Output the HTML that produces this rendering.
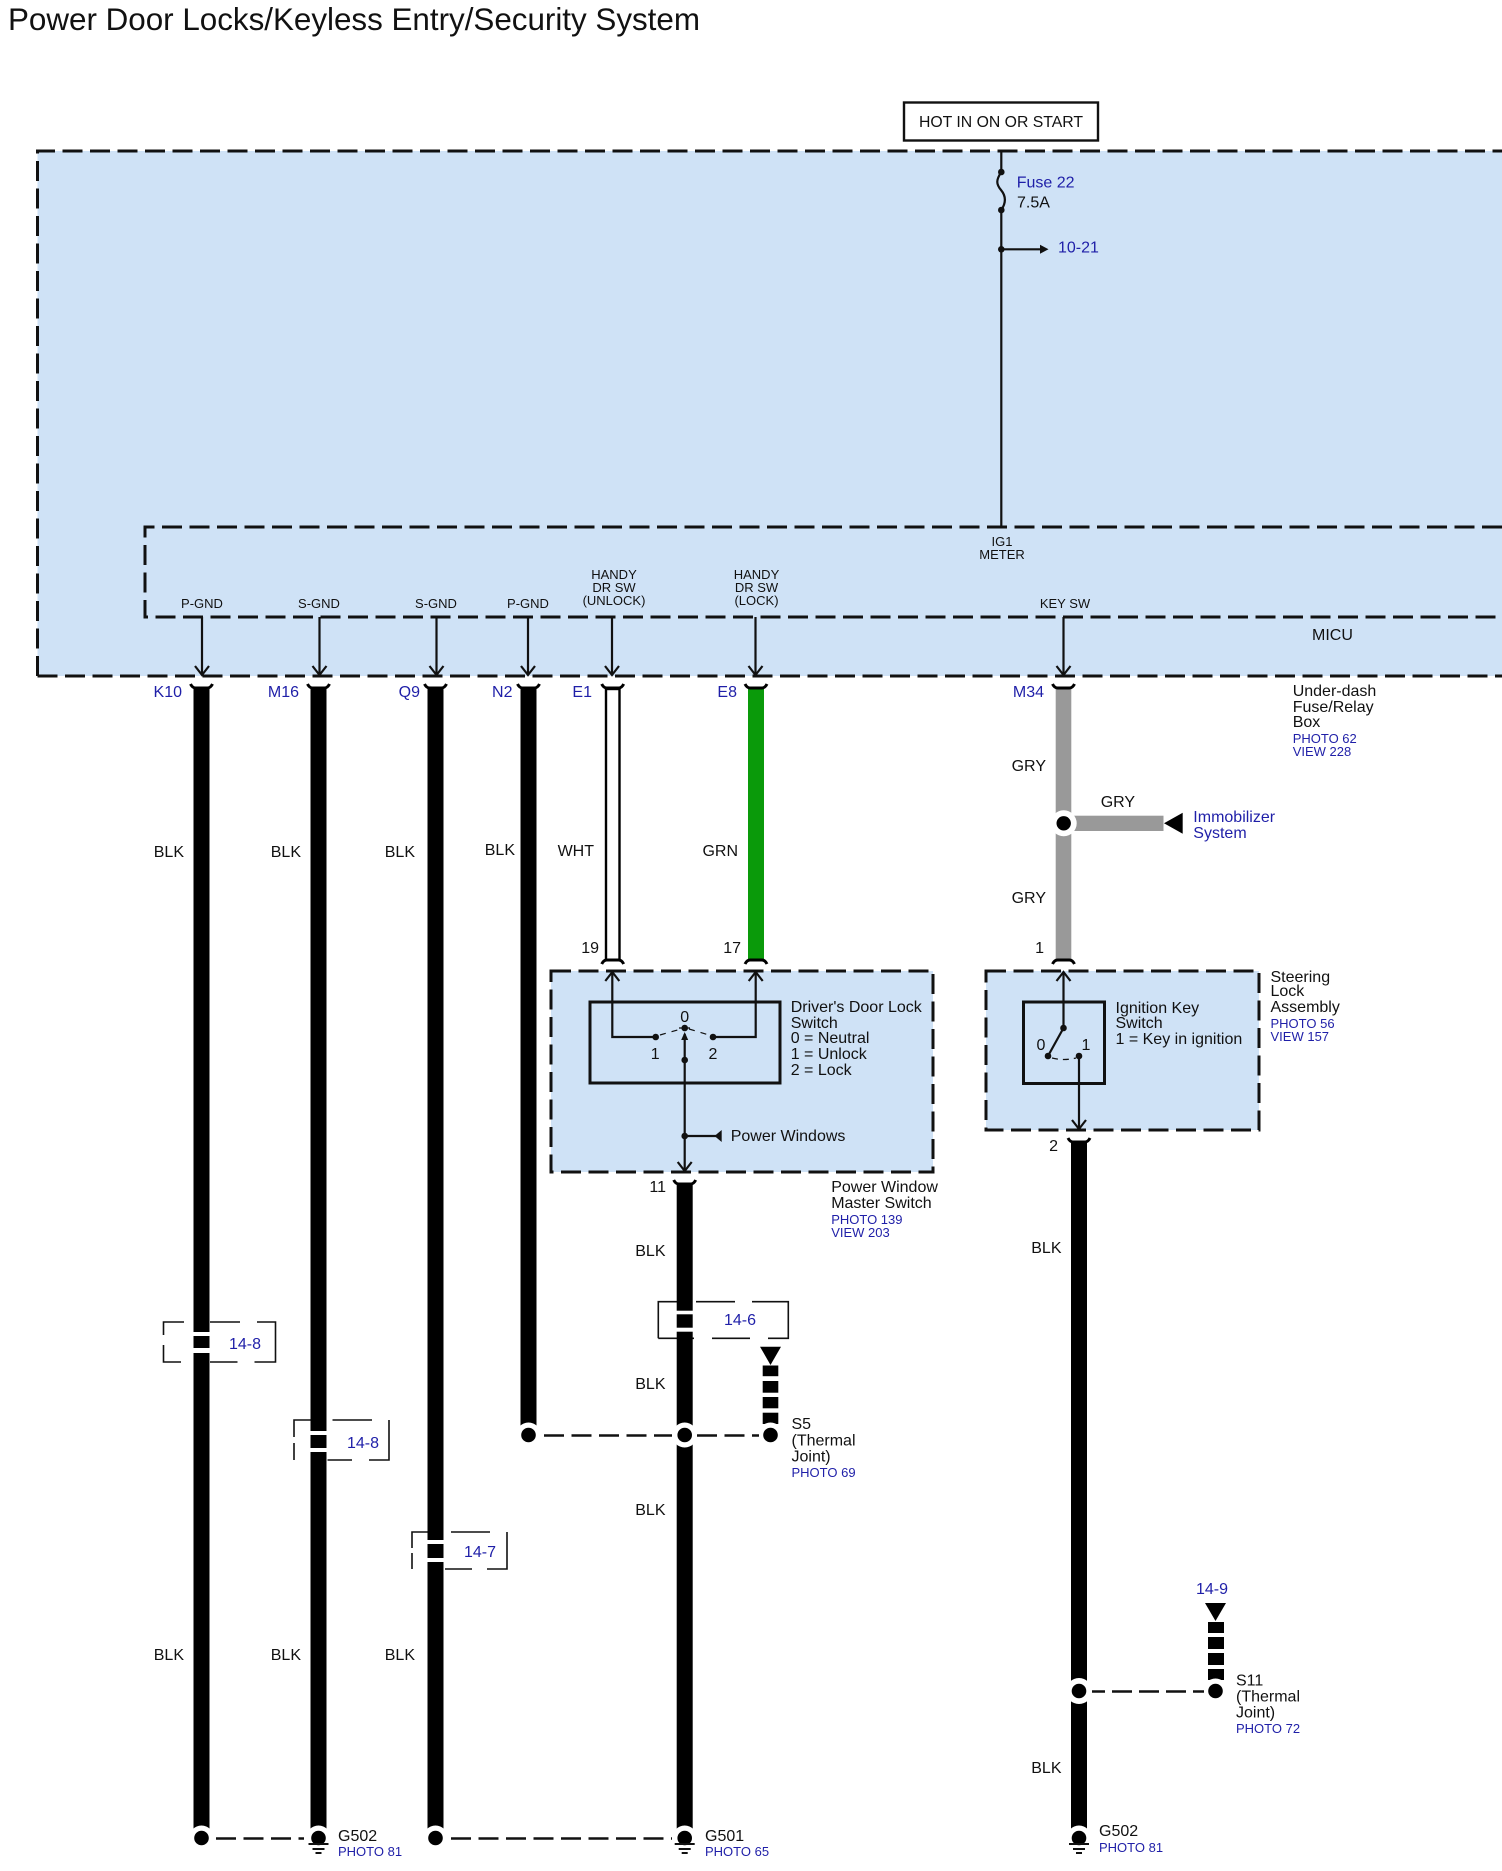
<!DOCTYPE html>
<html><head><meta charset="utf-8"><title>Power Door Locks/Keyless Entry/Security System</title>
<style>
html,body{margin:0;padding:0;background:#fff}
svg{display:block}
text{font-family:"Liberation Sans",Arial,sans-serif;font-size:16px;fill:#111}
.b{fill:#1f1fa8}
.s{font-size:13px}
.e{text-anchor:end}
.m{text-anchor:middle}
.d{fill:none;stroke:#111;stroke-width:3;stroke-dasharray:20 7.5}
.t{fill:none;stroke:#111;stroke-width:1.6}
.l{fill:none;stroke:#111;stroke-width:2.2}
</style></head><body>
<svg width="1502" height="1871" viewBox="0 0 1502 1871" xmlns="http://www.w3.org/2000/svg">
<defs>
<path id="ah" d="M-7,-9 L0,0 L7,-9" fill="none" stroke="#111" stroke-width="2.200"/>
<path id="au" d="M-7,9 L0,0 L7,9" fill="none" stroke="#111" stroke-width="2.200"/>
<path id="ct" d="M-11,-4 Q-9,0 -6,0 L6,0 Q9,0 11,-4" fill="none" stroke="#000" stroke-width="3"/>
<path id="cb" d="M-11,4 Q-9,0 -6,0 L6,0 Q9,0 11,4" fill="none" stroke="#000" stroke-width="3"/>
<g id="gnd"><rect x="-10" y="5" width="20" height="2" fill="#111"/><rect x="-6" y="10" width="12" height="2" fill="#111"/><rect x="-3" y="14" width="6" height="2" fill="#111"/></g>
</defs>
<rect width="1502" height="1871" fill="#fff"/>
<text x="8" y="30" style="font-size:31.400px" textLength="692">Power Door Locks/Keyless Entry/Security System</text>

<!-- main boxes -->
<rect x="37.500" y="151" width="1470" height="525" fill="#cfe2f6"/>
<path class="d" d="M37.500,676 L37.500,151 L1502,151"/>
<path class="d" d="M37.500,676 L1502,676"/>
<path class="d" d="M1502,527 L145,527 L145,617 L1502,617"/>
<rect x="904" y="102.500" width="194" height="38" fill="#fff" stroke="#111" stroke-width="2.400"/>
<text class="m" x="1001" y="127" style="font-size:15.800px">HOT IN ON OR START</text>

<!-- fuse line -->
<path class="l" d="M1001.300,151 V172 C996,180 996,184 1001,190 C1006,196 1006,203 1001.300,210 V527"/>
<circle cx="1001.300" cy="172" r="3.300" fill="#111"/><circle cx="1001.300" cy="210" r="3.300" fill="#111"/>
<circle cx="1001.300" cy="249.300" r="3.300" fill="#111"/>
<path class="l" d="M1001.300,249.300 H1042"/><path d="M1040,244.800 L1048.500,249.300 L1040,253.800 Z" fill="#111"/>
<text class="b" x="1016.700" y="187.500">Fuse 22</text>
<text x="1017" y="207.500">7.5A</text>
<text class="b" x="1058" y="252.500">10-21</text>

<!-- pin labels -->
<g>
<text class="s m" x="202" y="608">P-GND</text>
<text class="s m" x="319" y="608">S-GND</text>
<text class="s m" x="436" y="608">S-GND</text>
<text class="s m" x="528" y="608">P-GND</text>
<text class="s m" x="614" y="579">HANDY</text>
<text class="s m" x="614" y="592">DR SW</text>
<text class="s m" x="614" y="605">(UNLOCK)</text>
<text class="s m" x="756.500" y="579">HANDY</text>
<text class="s m" x="756.500" y="592">DR SW</text>
<text class="s m" x="756.500" y="605">(LOCK)</text>
<text class="s m" x="1002" y="546">IG1</text>
<text class="s m" x="1002" y="559">METER</text>
<text class="s m" x="1065" y="608">KEY SW</text>
</g>
<text x="1312" y="640">MICU</text>

<!-- pin arrows -->
<path class="l" d="M202,617 V675 M319.500,617 V675 M436.500,617 V675 M528,617 V675 M612,617 V675 M755.500,617 V675 M1063.500,617 V675"/>
<use href="#ah" x="202" y="675"/><use href="#ah" x="319.500" y="675"/><use href="#ah" x="436.500" y="675"/><use href="#ah" x="528" y="675"/><use href="#ah" x="612" y="675"/><use href="#ah" x="755.500" y="675"/><use href="#ah" x="1063.500" y="675"/>

<!-- brackets (under wires) -->
<path class="t" d="M163.500,1335 V1322 H184 M210,1322 H240 M257,1322 H275.500 V1362 H254.500 M237.500,1362 H210 M181,1362 H163.500 V1345"/>
<path class="t" d="M294,1437 V1420 H311 M332.500,1420 H372 M389,1420 V1460 H369 M352,1460 H327.500 M294,1443 V1460"/>
<path class="t" d="M412,1548 V1532 H430 M451,1532 H490 M507,1532 V1569 H487 M472,1569 H445 M412,1553 V1569"/>
<path class="t" d="M658.300,1338.300 V1301.700 H677 M696,1301.700 H735 M752,1301.700 H788.300 V1338.300 H768 M750,1338.300 H712 M694,1338.300 H658.300"/>

<!-- wires -->
<g fill="#000">
<rect x="193.500" y="689" width="16" height="1149"/>
<rect x="310.500" y="689" width="16" height="1149"/>
<rect x="427.500" y="689" width="16" height="1149"/>
<rect x="520.500" y="689" width="16" height="746"/>
<rect x="676.700" y="1184" width="16" height="654"/>
<rect x="1071" y="1142" width="16" height="696"/>
</g>
<rect x="606" y="689" width="13.500" height="271" fill="#fff" stroke="#000" stroke-width="2.400"/>
<rect x="748" y="689" width="16" height="271" fill="#0a9a0a"/>
<rect x="1055.700" y="689" width="15.600" height="271" fill="#999"/>
<rect x="1071" y="815.700" width="92.500" height="15.300" fill="#999"/>
<path d="M1164,823.300 L1182.700,812.700 L1182.700,833.700 Z" fill="#000"/>
<circle cx="1063.700" cy="823.300" r="13" fill="#fff"/>
<circle cx="1063.700" cy="823.300" r="7.200" fill="#000"/>

<!-- wire gaps -->
<g fill="#fff">
<rect x="192" y="1332" width="19" height="4"/><rect x="192" y="1348" width="19" height="5"/>
<rect x="309" y="1431" width="19" height="4"/><rect x="309" y="1448" width="19" height="4"/>
<rect x="426" y="1540" width="19" height="4"/><rect x="426" y="1558" width="19" height="4"/>
<rect x="675" y="1310.700" width="20" height="3.600"/><rect x="675" y="1327.700" width="20" height="4"/>
</g>

<!-- connector arcs -->
<use href="#ct" x="201.500" y="688"/><use href="#ct" x="318.500" y="688"/><use href="#ct" x="435.500" y="688"/><use href="#ct" x="528.500" y="688"/><use href="#ct" x="612.700" y="688"/><use href="#ct" x="756" y="688"/><use href="#ct" x="1063.500" y="688"/>
<use href="#cb" x="612.700" y="960"/><use href="#cb" x="756" y="960"/><use href="#cb" x="1063.500" y="960"/>
<use href="#ct" x="684.700" y="1184"/><use href="#ct" x="1079" y="1142"/>

<!-- wire labels -->
<text class="b e" x="182" y="697">K10</text>
<text class="b e" x="299" y="697">M16</text>
<text class="b e" x="420" y="697">Q9</text>
<text class="b e" x="512.500" y="697">N2</text>
<text class="b e" x="592" y="697">E1</text>
<text class="b e" x="737" y="697">E8</text>
<text class="b e" x="1044" y="697">M34</text>
<text class="e" x="184" y="857">BLK</text><text class="e" x="301" y="857">BLK</text><text class="e" x="415" y="857">BLK</text><text class="e" x="515" y="855">BLK</text>
<text class="e" x="594" y="856">WHT</text><text class="e" x="738" y="856">GRN</text>
<text class="e" x="1046" y="771">GRY</text><text class="e" x="1046" y="903">GRY</text><text x="1100.700" y="807">GRY</text>
<text class="b" x="1193.300" y="822">Immobilizer</text><text class="b" x="1193.300" y="838">System</text>
<text x="1292.700" y="696">Under-dash</text><text x="1292.700" y="712">Fuse/Relay</text><text x="1292.700" y="727">Box</text>
<text class="b s" x="1292.700" y="743">PHOTO 62</text><text class="b s" x="1292.700" y="756">VIEW 228</text>
<text class="e" x="599" y="953">19</text><text class="e" x="741" y="953">17</text><text class="e" x="1044" y="953">1</text>
<text class="e" x="184" y="1660">BLK</text><text class="e" x="301" y="1660">BLK</text><text class="e" x="415" y="1660">BLK</text>
<text class="e" x="665.500" y="1256">BLK</text><text class="e" x="665.500" y="1389">BLK</text><text class="e" x="665.500" y="1515">BLK</text>
<text class="e" x="1061.500" y="1253">BLK</text><text class="e" x="1061.500" y="1773">BLK</text>

<!-- switch box -->
<rect x="551" y="971" width="382" height="201" fill="#cfe2f6"/>
<rect x="551" y="971" width="382" height="201" class="d"/>
<rect x="590" y="1002" width="190" height="81" fill="none" stroke="#111" stroke-width="3"/>
<path class="l" d="M612.300,972 V1037 H655.700 M755.700,972 V1037 H713 M684.700,1172 V1034"/>
<use href="#au" x="612.300" y="972"/><use href="#au" x="755.700" y="972"/><use href="#ah" x="684.700" y="1171"/>
<circle cx="655.700" cy="1037" r="3.300" fill="#111"/><circle cx="713" cy="1037" r="3.300" fill="#111"/><circle cx="684.700" cy="1028" r="3.300" fill="#111"/><circle cx="684.700" cy="1060" r="3.300" fill="#111"/><circle cx="684.700" cy="1136" r="3.300" fill="#111"/>
<path d="M681.200,1040 L684.700,1032 L688.200,1040 Z" fill="#111"/>
<path d="M679,1028 H690" class="l" style="stroke-width:1.300"/>
<path d="M660,1035 L681,1029 M689,1029 L709,1035" fill="none" stroke="#111" stroke-width="1.200" stroke-dasharray="6 6"/>
<path class="l" d="M684.700,1136 H716"/><path d="M714.500,1136 L721.700,1130 L721.700,1142 Z" fill="#111"/>
<text class="m" x="684.700" y="1022">0</text><text class="m" x="655.200" y="1059">1</text><text class="m" x="713" y="1059">2</text>
<text x="790.700" y="1012">Driver's Door Lock</text><text x="790.700" y="1028">Switch</text><text x="790.700" y="1043">0 = Neutral</text><text x="790.700" y="1059">1 = Unlock</text><text x="790.700" y="1075">2 = Lock</text>
<text x="730.700" y="1141">Power Windows</text>
<text class="e" x="666" y="1192">11</text>
<text x="831.200" y="1192">Power Window</text><text x="831.200" y="1208">Master Switch</text>
<text class="b s" x="831.200" y="1224">PHOTO 139</text><text class="b s" x="831.200" y="1237">VIEW 203</text>

<!-- steering box -->
<rect x="986" y="971" width="273" height="159" fill="#cfe2f6"/>
<rect x="986" y="971" width="273" height="159" class="d"/>
<rect x="1023.500" y="1002" width="81" height="81.500" fill="none" stroke="#111" stroke-width="3"/>
<path class="l" d="M1063.500,972 V1028 L1048,1056 M1079,1056 V1129"/>
<use href="#au" x="1063.500" y="972"/><use href="#ah" x="1079" y="1129"/>
<circle cx="1063.500" cy="1028" r="3.300" fill="#111"/><circle cx="1048" cy="1056" r="3.300" fill="#111"/><circle cx="1079" cy="1056" r="3.300" fill="#111"/>
<path d="M1052,1058 Q1064,1061 1076,1058" fill="none" stroke="#111" stroke-width="1.200" stroke-dasharray="6 5"/>
<text class="m" x="1041" y="1050">0</text><text class="m" x="1086" y="1050">1</text>
<text x="1115.500" y="1013">Ignition Key</text><text x="1115.500" y="1028">Switch</text><text x="1115.500" y="1044">1 = Key in ignition</text>
<text x="1270.500" y="982">Steering</text><text x="1270.500" y="996">Lock</text><text x="1270.500" y="1012">Assembly</text>
<text class="b s" x="1270.500" y="1028">PHOTO 56</text><text class="b s" x="1270.500" y="1041">VIEW 157</text>
<text class="e" x="1058" y="1151">2</text>

<text class="b" x="229" y="1349">14-8</text><text class="b" x="347" y="1448">14-8</text><text class="b" x="464" y="1557">14-7</text><text class="b" x="724" y="1325">14-6</text>

<!-- thermal joint S5 -->
<path d="M760,1346.700 H781 L770.500,1365 Z" fill="#000"/>
<g fill="#000"><rect x="762.700" y="1365.500" width="15.600" height="10.700"/><rect x="762.700" y="1381" width="15.600" height="11.700"/><rect x="762.700" y="1397" width="15.600" height="11.300"/><rect x="762.700" y="1412.700" width="15.600" height="11.300"/></g>
<circle cx="528.500" cy="1435" r="12.500" fill="#fff"/><circle cx="684.700" cy="1435" r="12.500" fill="#fff"/><circle cx="770.500" cy="1435" r="12.500" fill="#fff"/>
<path d="M544,1435.500 H672 M697,1435.500 H759" fill="none" stroke="#111" stroke-width="2.500" stroke-dasharray="20 7.500"/>
<circle cx="528.500" cy="1435" r="7.300" fill="#000"/><circle cx="684.700" cy="1435" r="7.300" fill="#000"/><circle cx="770.500" cy="1435" r="7.300" fill="#000"/>
<text x="791.500" y="1429">S5</text><text x="791.500" y="1445.500">(Thermal</text><text x="791.500" y="1461.500">Joint)</text><text class="b s" x="791.500" y="1477">PHOTO 69</text>

<!-- thermal joint S11 -->
<text class="b m" x="1212" y="1594">14-9</text>
<path d="M1205,1603 H1226 L1215.500,1621 Z" fill="#000"/>
<g fill="#000"><rect x="1208" y="1622" width="16" height="11"/><rect x="1208" y="1637" width="16" height="12"/><rect x="1208" y="1653" width="16" height="12"/><rect x="1208" y="1669" width="16" height="11"/></g>
<circle cx="1079" cy="1691" r="13" fill="#fff"/><circle cx="1215.500" cy="1691" r="12.500" fill="#fff"/>
<path d="M1092,1691.500 H1204" fill="none" stroke="#111" stroke-width="2.500" stroke-dasharray="13 7 20 7 20 7 20 7"/>
<circle cx="1079" cy="1691" r="7.300" fill="#000"/><circle cx="1215.500" cy="1691" r="7.300" fill="#000"/>
<text x="1236" y="1685.500">S11</text><text x="1236" y="1701.500">(Thermal</text><text x="1236" y="1717.500">Joint)</text><text class="b s" x="1236" y="1733">PHOTO 72</text>

<!-- bottom grounds -->
<circle cx="201.500" cy="1838" r="12.500" fill="#fff"/><circle cx="318.500" cy="1838" r="12.500" fill="#fff"/><circle cx="435.500" cy="1838" r="12.500" fill="#fff"/><circle cx="684.700" cy="1838" r="12.500" fill="#fff"/><circle cx="1079" cy="1838" r="12.500" fill="#fff"/>
<path d="M216,1838.500 H304" fill="none" stroke="#111" stroke-width="2.500" stroke-dasharray="20 7.500"/>
<path d="M451,1838.500 H672" fill="none" stroke="#111" stroke-width="2.500" stroke-dasharray="20 7.500"/>
<circle cx="201.500" cy="1838" r="7.300" fill="#000"/><circle cx="318.500" cy="1838" r="7.300" fill="#000"/><circle cx="435.500" cy="1838" r="7.300" fill="#000"/><circle cx="684.700" cy="1838" r="7.300" fill="#000"/><circle cx="1079" cy="1838" r="7.300" fill="#000"/>
<use href="#gnd" x="318.500" y="1838"/><use href="#gnd" x="684.700" y="1838"/><use href="#gnd" x="1079" y="1838"/>
<text x="338" y="1841">G502</text><text class="b s" x="338" y="1856">PHOTO 81</text>
<text x="705" y="1841">G501</text><text class="b s" x="705" y="1856">PHOTO 65</text>
<text x="1099" y="1836">G502</text><text class="b s" x="1099" y="1852">PHOTO 81</text>
</svg>
</body></html>
